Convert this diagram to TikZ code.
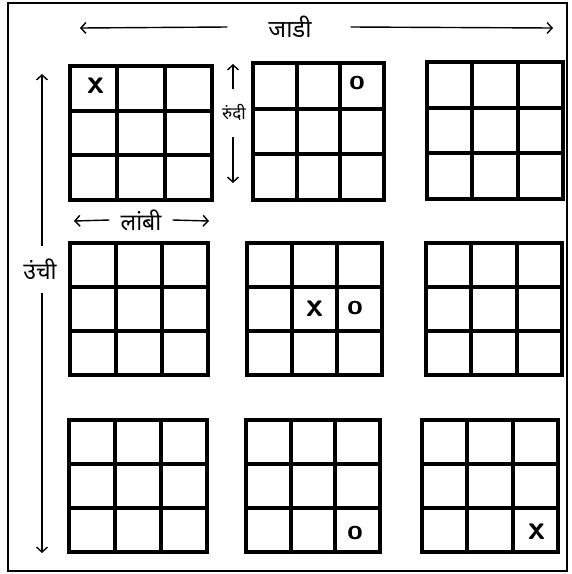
\documentclass[tikz,border=0pt]{standalone}
\usepackage{fontspec}
\newfontfamily\devfont[Script=Devanagari]{Noto Sans}
\usetikzlibrary{arrows.meta,positioning}

\begin{document}
\begin{tikzpicture}[x=1pt,y=-1pt,>={Straight Barb[length=5pt,width=11pt]},
every node/.style={font=\devfont\fontsize{24}{24}\selectfont,inner sep=1pt},
board/.style={line width=4pt,line cap=round},
axis/.style={line width=1.4pt,->},
xmark/.style={font=\sffamily\bfseries\fontsize{34}{34}\selectfont,inner sep=0pt},
omark/.style={font=\sffamily\bfseries\fontsize{28}{28}\selectfont,inner sep=0pt}]
\useasboundingbox (0,0) rectangle (572,574);
\draw[line width=2pt] (8,3) rectangle (567,571);
% nine boards
\foreach \gx/\gy/\gw/\gh in {70/66/142/134,253/63/131/137,427/62/136/137,
  70/243/138/132,247/243/135/132,426/243/136/132,
  69/420/138/132,246/420/134/132,422/420/136/132}{
  \draw[board] (\gx,\gy) rectangle ++(\gw,\gh);
  \draw[board] (\gx+\gw/3,\gy) -- ++(0,\gh) (\gx+2*\gw/3,\gy) -- ++(0,\gh)
    (\gx,\gy+\gh/3) -- ++(\gw,0) (\gx,\gy+2*\gh/3) -- ++(\gw,0);
}
% moves
\node[xmark] (x1) at (96,86) {x};
\node[omark] (o1) at (357,83) {o};
\node[xmark] (x2) at (315,309) {x};
\node[omark] (o2) at (355,308) {o};
\node[omark] (o3) at (355,533) {o};
\node[xmark] (x3) at (537,532) {x};
% labels
\node (jadi) at (290,27) {जाडी};
\node[font=\devfont\fontsize{17}{17}\selectfont] (rundi) at (234,112) {रुंदी};
\node[font=\devfont\fontsize{23}{23}\selectfont] (lambi) at (141,220) {लांबी};
\node[font=\devfont\fontsize{23}{23}\selectfont] (unchi) at (40,269) {उंची};
\coordinate (jadiL) at (80,28);
\coordinate (jadiR) at (553,28);
\coordinate (rundiT) at (233,64);
\coordinate (rundiB) at (233,183);
\coordinate (lambiL) at (74,221);
\coordinate (lambiR) at (209,221);
\coordinate (unchiT) at (42,74);
\coordinate (unchiB) at (42,553);
\draw[axis] ([xshift=-40pt]jadi.west) -- (jadiL);
\draw[axis] ([xshift=38pt]jadi.east) -- (jadiR);
\draw[axis] ([yshift=14pt]rundi.north -| rundiT) -- (rundiT);
\draw[axis] ([yshift=-16pt]rundi.south -| rundiB) -- (rundiB);
\draw[axis] ([xshift=-10pt]lambi.west) -- (lambiL);
\draw[axis] ([xshift=10pt]lambi.east) -- (lambiR);
\draw[axis] ([yshift=12pt]unchi.north -| unchiT) -- (unchiT);
\draw[axis] ([yshift=-12pt]unchi.south -| unchiB) -- (unchiB);
\end{tikzpicture}
\end{document}
